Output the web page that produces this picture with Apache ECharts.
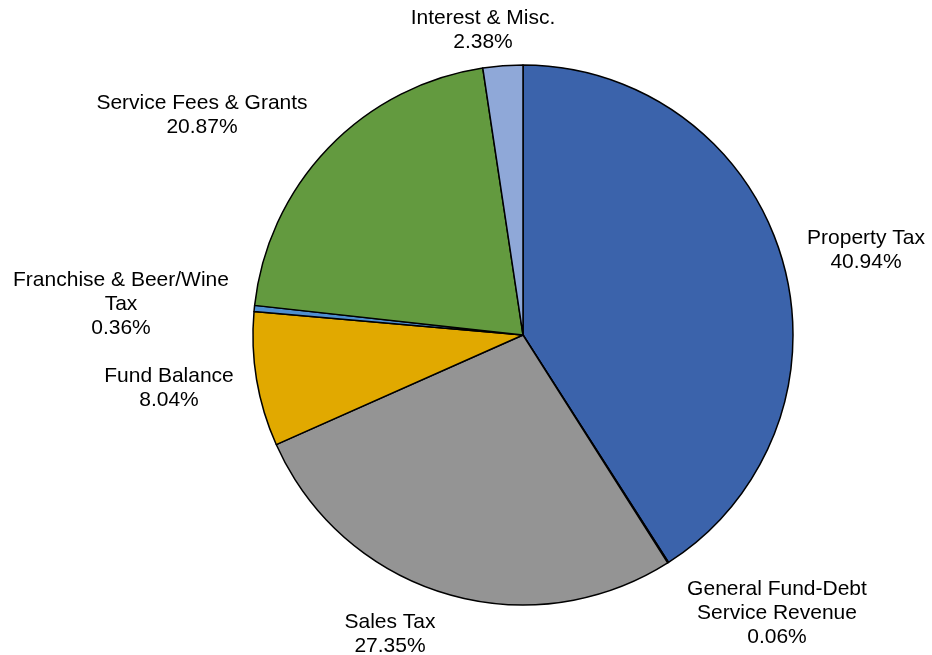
<!DOCTYPE html>
<html>
<head>
<meta charset="utf-8">
<script src="https://cdn.jsdelivr.net/npm/echarts@6/dist/echarts.min.js"></script>
<style>
  html, body { margin: 0; padding: 0; background: #fff; }
  #main { width: 932px; height: 655px; }
</style>
</head>
<body>
<div id="main"></div>
<script>
// 数据
var categories = ['Property Tax', 'General Fund-Debt\nService Revenue', 'Sales Tax', 'Fund Balance',
  'Franchise & Beer/Wine\nTax', 'Service Fees & Grants', 'Interest & Misc.'];
var shares = [40.94, 0.06, 27.35, 8.04, 0.36, 20.87, 2.38];
var colors = ['#3B63AB', '#C55A11', '#949494', '#E1A900', '#4F8FD0', '#639A3F', '#8FA8D8'];

// label centres (layout only)
var labelPos = [[866, 250], [777, 613], [390, 634], [169, 388], [121, 304], [202, 115], [483, 30]];

var chart = echarts.init(document.getElementById('main'));

var option = {
  animation: false,
  series: [{
    type: 'pie',
    center: [523, 335],
    radius: 270,
    startAngle: 90,
    clockwise: true,
    avoidLabelOverlap: false,
    itemStyle: { borderColor: '#000', borderWidth: 1.5 },
    label: {
      show: true,
      position: 'outside',
      color: '#000',
      fontSize: 21,
      lineHeight: 24,
      fontFamily: 'Liberation Sans, Arial, sans-serif',
      align: 'center',
      formatter: function (p) { return p.name + '\n' + p.value.toFixed(2) + '%'; }
    },
    labelLine: { show: false },
    labelLayout: function (params) {
      var pos = labelPos[params.dataIndex];
      return { x: pos[0], y: pos[1], align: 'center', verticalAlign: 'middle' };
    },
    emphasis: { disabled: true },
    data: categories.map(function (c, i) {
      return { name: c, value: shares[i], itemStyle: { color: colors[i] } };
    })
  }]
};

chart.setOption(option);
</script>
</body>
</html>
